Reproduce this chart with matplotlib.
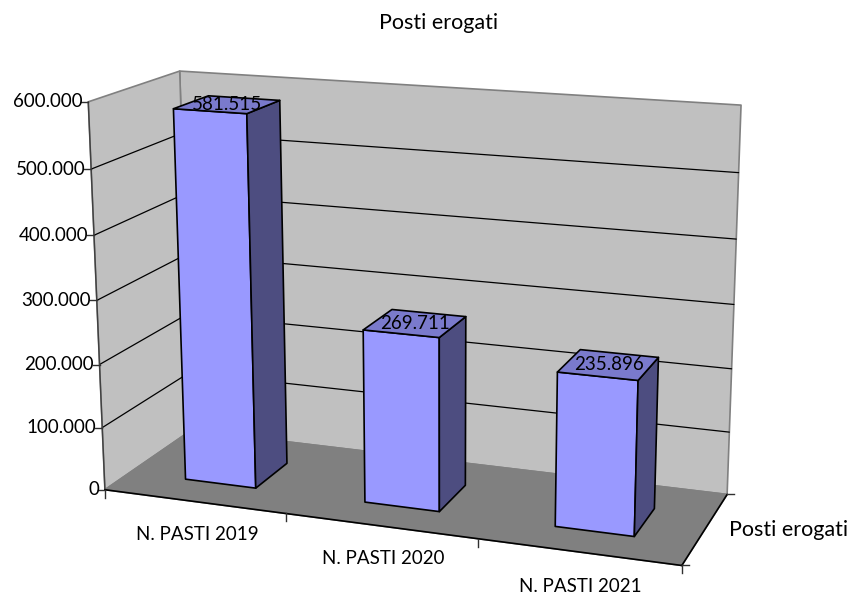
import numpy as np
import matplotlib
matplotlib.use("Agg")
import matplotlib.pyplot as plt
from matplotlib.patches import Polygon

categories = ["N. PASTI 2019", "N. PASTI 2020", "N. PASTI 2021"]
meals = [581515, 269711, 235896]
y_ticks = [0, 100000, 200000, 300000, 400000, 500000, 600000]
title = "Posti erogati"
series_name = "Posti erogati"
y_max = 600000

# box corners on the canvas, (category, value, depth) -> pixel
corners = [
    ((0, 0, 0), (105, 490)), ((1, 0, 0), (682, 565)),
    ((1, 0, 1), (727, 495)), ((0, 0, 1), (191, 430)),
    ((0, 1, 0), (88, 102)), ((0, 1, 1), (180, 71)),
    ((1, 1, 1), (741, 105)),
]


def fit_camera(pairs):
    rows = []
    for (u, v, d), (x, y) in pairs:
        p = [u, v, d, 1]
        rows.append(p + [0, 0, 0, 0] + [-x * c for c in p])
        rows.append([0, 0, 0, 0] + p + [-y * c for c in p])
    return np.linalg.svd(np.array(rows, dtype=float))[2][-1].reshape(3, 4)


cam = fit_camera(corners)


def pt(u, v, d):
    h = cam @ np.array([u, v, d, 1.0])
    return h[0] / h[2], h[1] / h[2]


def dots(n):
    return f"{n:,}".replace(",", ".")


plt.rcParams["font.family"] = ["Lato", "DejaVu Sans"]
fig = plt.figure(figsize=(8.51, 5.94), dpi=100)
ax = fig.add_axes([0, 0, 1, 1])
ax.set_xlim(0, 851)
ax.set_ylim(594, 0)
ax.axis("off")


def face(points, color, edge, lw=1.2, z=1):
    ax.add_patch(Polygon([pt(*p) for p in points], closed=True, facecolor=color,
                         edgecolor=edge, linewidth=lw, joinstyle="round", zorder=z))


def line(a, b, color="black", lw=1.0, z=2):
    pa, pb = pt(*a), pt(*b)
    ax.plot([pa[0], pb[0]], [pa[1], pb[1]], color=color, lw=lw, zorder=z,
            solid_capstyle="round")


# walls and floor
face([(0, 0, 1), (1, 0, 1), (1, 1, 1), (0, 1, 1)], "#C0C0C0", "#808080")
face([(0, 0, 0), (0, 0, 1), (0, 1, 1), (0, 1, 0)], "#C0C0C0", "#808080")
face([(0, 0, 0), (1, 0, 0), (1, 0, 1), (0, 0, 1)], "#808080", "#808080")

# gridlines bend round the corner of the two walls
for t in y_ticks[1:-1]:
    v = t / y_max
    line((0, v, 0), (0, v, 1), lw=0.9)
    line((0, v, 1), (1, v, 1), lw=0.9)

# axes
line((0, 0, 0), (0, 1, 0), color="#404040")
line((0, 0, 0), (1, 0, 0), lw=1.2)
line((1, 0, 0), (1, 0, 1), lw=1.2)

for t in y_ticks:
    x, y = pt(0, t / y_max, 0)
    ax.plot([x - 7, x], [y, y], color="#303030", lw=1.0, zorder=2)
    ax.text(x - 6, y, dots(t), ha="right", va="center", fontsize=13.5, color="black")

for i in range(len(categories) + 1):
    x, y = pt(i / len(categories), 0, 0)
    ax.plot([x, x], [y, y + 8], color="#303030", lw=1.0, zorder=2)

for d in (0, 1):
    x, y = pt(1, 0, d)
    ax.plot([x, x + 7], [y, y], color="#303030", lw=1.0, zorder=2)

# bars, front face then side then top
bar_w = 0.132
bar_shift = [0.005, 0.003, 0.001]
d0, d1 = 0.28, 0.68
for i, val in enumerate(meals):
    c = (i + 0.5) / len(categories) + bar_shift[i]
    u0, u1 = c - bar_w / 2, c + bar_w / 2
    v = val / y_max
    face([(u0, 0, d0), (u1, 0, d0), (u1, v, d0), (u0, v, d0)], "#9999FF", "black", z=5)
    face([(u1, 0, d0), (u1, 0, d1), (u1, v, d1), (u1, v, d0)], "#4D4D80", "black", z=5)
    face([(u0, v, d0), (u1, v, d0), (u1, v, d1), (u0, v, d1)], "#7A7ACC", "black", z=5)
    x, y = pt(c, v, (d0 + d1) / 2)
    ax.text(x, y, dots(val), ha="center", va="center", fontsize=13.5, color="black", zorder=6)

# text round the box
label_pos = [(197, 535), (383, 559), (580, 586)]
for name, (x, y) in zip(categories, label_pos):
    ax.text(x, y, name, ha="center", va="center", fontsize=13.5)
ax.text(789, 530, series_name, ha="center", va="center", fontsize=15.5)
ax.text(439, 23, title, ha="center", va="center", fontsize=15.5)

fig.savefig("out.png", dpi=100)
